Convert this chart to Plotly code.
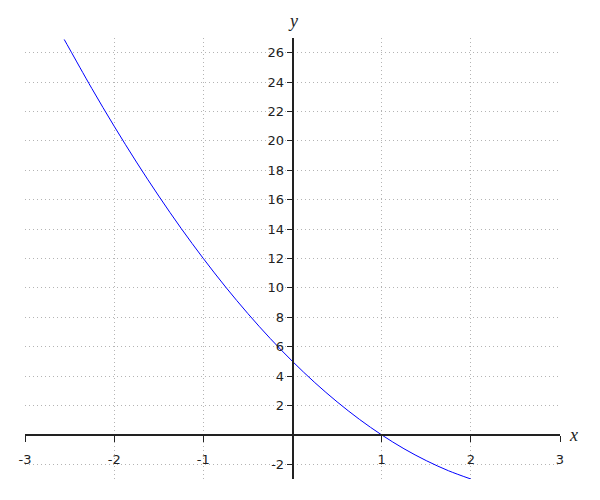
import plotly.graph_objects as go

# puntos
x_vals = [-2.56, -2.5, -2.25, -2.0, -1.75, -1.5, -1.25, -1.0, -0.75, -0.5, -0.25,
          0.0, 0.25, 0.5, 0.75, 1.0, 1.25, 1.5, 1.75, 2.0]
y_vals = [26.9, 26.25, 23.56, 21.0, 18.56, 16.25, 14.06, 12.0, 10.06, 8.25, 6.56,
          5.0, 3.56, 2.25, 1.06, 0.0, -0.94, -1.75, -2.44, -3.0]

x_ticks = [-3, -2, -1, 1, 2, 3]
y_ticks = [-2, 2, 4, 6, 8, 10, 12, 14, 16, 18, 20, 22, 24, 26]

fig = go.Figure()
fig.add_trace(go.Scatter(x=x_vals, y=y_vals, mode="lines",
                         line=dict(color="#0000ff", width=1, shape="spline"),
                         showlegend=False))

grid = dict(showgrid=True, gridcolor="#b4b4b4", griddash="1px,3px", gridwidth=1,
            zeroline=False, showline=True, linecolor="#222222", linewidth=1.5,
            ticks="outside", tickcolor="#222222", tickwidth=1.2, automargin=False,
            tickfont=dict(family="DejaVu Sans", size=13, color="#222222"))

# el body de la pagina tiene 8px de margen, se compensa aqui
fig.update_layout(
    width=600, height=500,
    margin=dict(l=17, r=48, t=30, b=29),
    plot_bgcolor="white", paper_bgcolor="white",
    xaxis=dict(range=[-3, 3], tickvals=x_ticks, ticktext=[str(v) for v in x_ticks],
               anchor="free", position=0.1, ticklen=6, ticklabelstandoff=7, **grid),
    yaxis=dict(range=[-3, 27], tickvals=y_ticks, ticktext=[str(v) for v in y_ticks],
               anchor="free", position=0.5, ticklen=5, **grid),
    annotations=[
        dict(text="<i>y</i>", x=0, y=27, xref="x", yref="y", yshift=17,
             showarrow=False, font=dict(family="Liberation Serif", size=18, color="#222222")),
        dict(text="<i>x</i>", x=3, y=0, xref="x", yref="y", xanchor="left", xshift=7,
             showarrow=False, font=dict(family="Liberation Serif", size=18, color="#222222")),
    ],
)

fig.write_html("out.html")
